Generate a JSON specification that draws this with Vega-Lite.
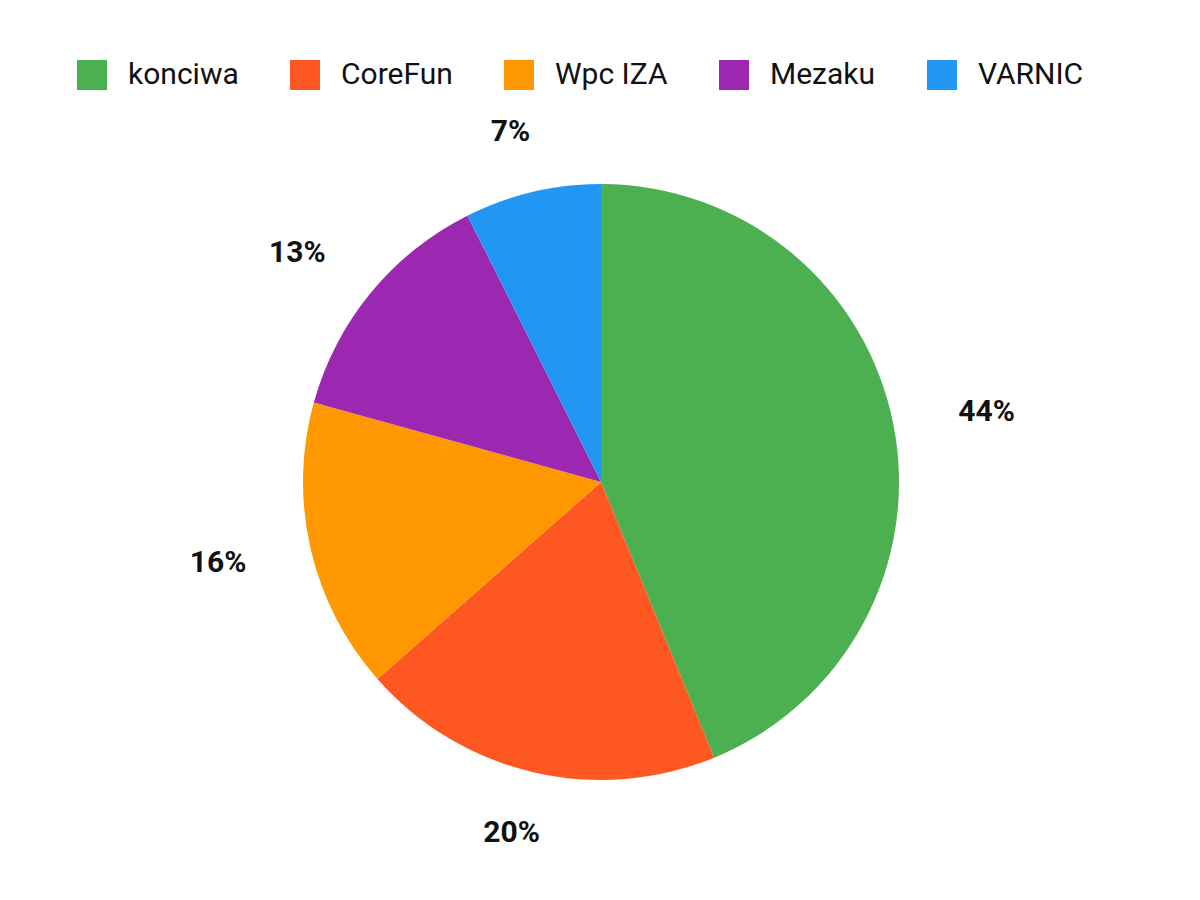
{
  "$schema": "https://vega.github.io/schema/vega-lite/v6.json",
  "width": 1198,
  "height": 836,
  "autosize": {"type": "none"},
  "padding": {"top": 64, "left": 2, "right": 0, "bottom": 0},
  "background": "white",
  "data": {
    "values": [
      {"brand": "konciwa", "share": 0.438},
      {"brand": "CoreFun", "share": 0.197},
      {"brand": "Wpc IZA", "share": 0.158},
      {"brand": "Mezaku", "share": 0.133},
      {"brand": "VARNIC", "share": 0.074}
    ]
  },
  "encoding": {
    "theta": {"field": "share", "type": "quantitative", "stack": true},
    "order": {"field": "share", "type": "quantitative", "sort": "descending"},
    "color": {
      "field": "brand",
      "type": "nominal",
      "sort": ["konciwa", "CoreFun", "Wpc IZA", "Mezaku", "VARNIC"],
      "scale": {
        "domain": ["konciwa", "CoreFun", "Wpc IZA", "Mezaku", "VARNIC"],
        "range": ["#4CAF50", "#FF5722", "#FF9800", "#9C27B0", "#2196F3"]
      },
      "legend": {
        "title": null,
        "orient": "none",
        "direction": "horizontal",
        "legendX": 75,
        "legendY": -4,
        "padding": 0,
        "symbolType": "square",
        "symbolSize": 900,
        "symbolStrokeWidth": 0,
        "symbolOpacity": 1,
        "labelFont": "Roboto",
        "labelFontSize": 30,
        "labelColor": "#111111",
        "labelOffset": 21,
        "labelLimit": 300,
        "columnPadding": 51
      }
    }
  },
  "layer": [
    {
      "mark": {"type": "arc", "outerRadius": 298, "stroke": null}
    },
    {
      "mark": {
        "type": "text",
        "radius": 360,
        "dx": {"expr": "33*sin(PI*(datum.share_start+datum.share_end))"},
        "font": "Roboto",
        "fontSize": 30,
        "fontWeight": "bold",
        "color": "#111111",
        "align": "center",
        "baseline": "middle"
      },
      "encoding": {
        "text": {"field": "share", "type": "quantitative", "format": ".0%"},
        "color": {"value": "#111111"}
      }
    }
  ]
}
